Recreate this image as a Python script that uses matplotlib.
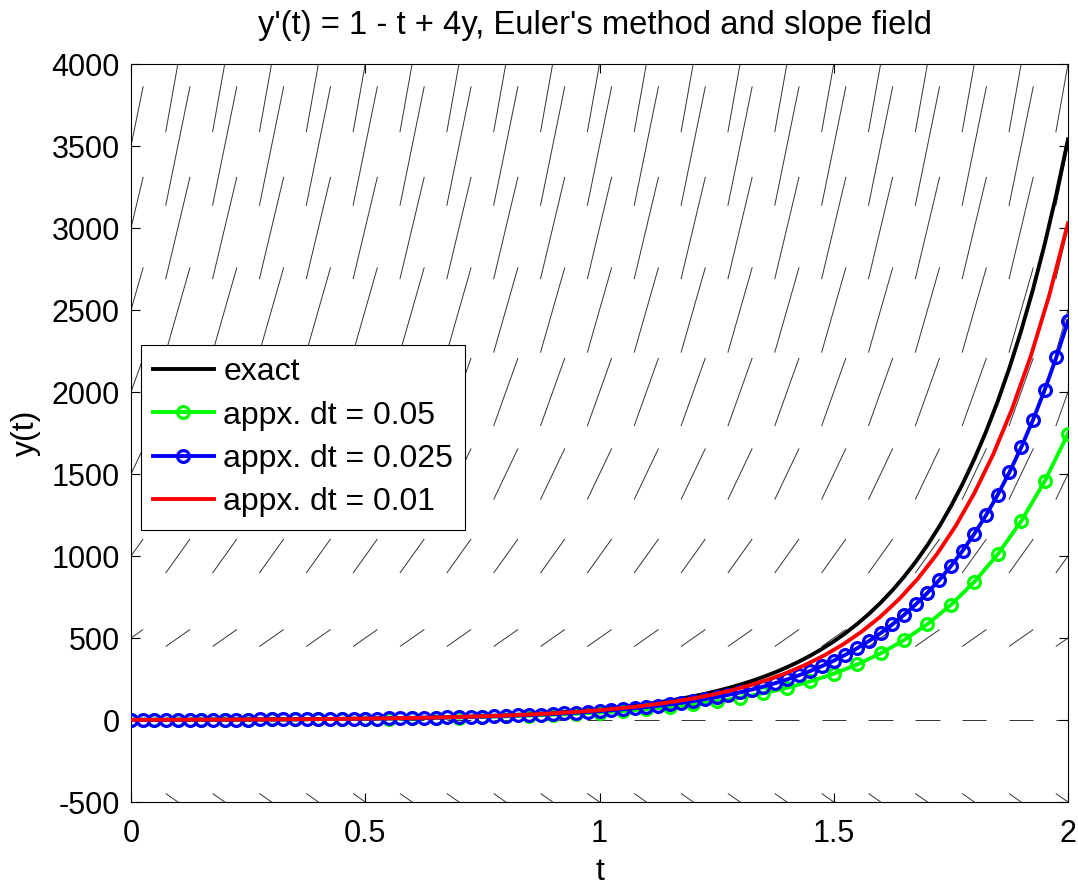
import numpy as np
import matplotlib
matplotlib.use("Agg")
import matplotlib.pyplot as plt
from matplotlib.collections import LineCollection

plt.rcParams['font.family'] = ['Liberation Sans', 'DejaVu Sans']

title = "y'(t) = 1 - t + 4y, Euler's method and slope field"
x_label = "t"
y_label = "y(t)"
labels = ["exact", "appx. dt = 0.05", "appx. dt = 0.025", "appx. dt = 0.01"]
colors = ["#000000", "#00ff00", "#0000ff", "#ff0000"]

# exact solution, sampled every 0.025
t_exact = np.linspace(0, 2, 81)
y_exact = [1.0, 1.1311, 1.2754, 1.4342, 1.609, 1.8016, 2.0138, 2.2476, 2.5053, 2.7895,
           3.103, 3.4487, 3.8301, 4.251, 4.7155, 5.2283, 5.7942, 6.4191, 7.109, 7.8707,
           8.712, 9.6411, 10.6672, 11.8006, 13.0525, 14.4355, 15.9632, 17.6509, 19.5155, 21.5755,
           23.8516, 26.366, 29.1449, 32.215, 35.6074, 39.3558, 43.4979, 48.0749, 53.1327, 58.7217,
           64.8978, 71.7228, 79.265, 87.5998, 96.8104, 106.9891, 118.2376, 130.6685, 144.4061, 159.5879,
           176.3656, 194.9073, 215.3983, 238.0437, 263.0701, 290.7279, 321.2939, 355.0738, 392.4057, 433.6632,
           479.2592, 529.6499, 585.3395, 646.8854, 714.9035, 790.0744, 873.1505, 964.9632, 1066.4312, 1178.57,
           1302.5019, 1439.4672, 1590.8365, 1758.1249, 1943.0065, 2147.3316, 2373.1451, 2622.707, 2898.5148, 3203.329,
           3540.2001]

# Euler, dt = 0.05
t_dt05 = np.linspace(0, 2, 41)
y_dt05 = [1.0, 1.25, 1.5475, 1.902, 2.3249, 2.8299, 3.4334, 4.155, 5.0185, 6.0522,
          7.2902, 8.7732, 10.5504, 12.6804, 15.234, 18.2958, 21.9675, 26.3585, 31.6527, 37.9883,
          45.5884, 54.7061, 65.6448, 78.7688, 94.515, 113.408, 136.0771, 163.2775, 195.9155, 235.0786,
          282.0719, 338.4612, 406.126, 487.3212, 584.7529, 701.6685, 841.9647, 1010.3177, 1212.3387, 1454.7615,
          1745.6662]

# Euler, dt = 0.025
t_dt025 = np.linspace(0, 2, 81)
y_dt025 = [1.0, 1.125, 1.2619, 1.4118, 1.5761, 1.7562, 1.9537, 2.1704, 2.408, 2.6688,
           2.9551, 3.2693, 3.6144, 3.9933, 4.4095, 4.8667, 5.369, 5.9209, 6.5274, 7.1939,
           7.9264, 8.7315, 9.6166, 10.5895, 11.6591, 12.835, 14.1278, 15.5494, 17.1124, 18.8312,
           20.7212, 22.7995, 25.0851, 27.5986, 30.3629, 33.4029, 36.7463, 40.4234, 44.4677, 48.9157,
           53.8079, 59.1887, 65.1069, 71.6163, 78.7761, 86.6512, 95.3132, 104.8408, 115.3205, 126.8475,
           139.5266, 153.4731, 168.8135, 185.6873, 204.2479, 224.664, 247.121, 271.8231, 298.9948, 328.883,
           361.7594, 397.9229, 437.7021, 481.4585, 529.59, 582.534, 640.7718, 704.8327, 775.2991, 852.8115,
           938.0745, 1031.8632, 1135.0302, 1248.5132, 1373.3439, 1510.657, 1661.7008, 1827.8484, 2010.6101, 2211.6474,
           2432.7878]

# Euler, dt = 0.01 (every 4th step shown)
t_dt01 = np.linspace(0, 2, 51)
y_dt01 = [1.0, 1.2117, 1.4577, 1.7437, 2.0767, 2.4645, 2.9164, 3.4435, 4.0583, 4.7759,
          5.6137, 6.5921, 7.735, 9.0703, 10.6308, 12.4546, 14.5864, 17.0787, 19.9927, 23.3999,
          27.3841, 32.0434, 37.4925, 43.8654, 51.3191, 60.0371, 70.2343, 82.1619, 96.1138, 112.4339,
          131.5243, 153.8557, 179.9786, 210.537, 246.2843, 288.1019, 337.0209, 394.2475, 461.1928, 539.5076,
          631.1232, 738.2988, 863.6774, 1010.3509, 1181.9365, 1382.6656, 1617.4886, 1892.1966, 2213.5644, 2589.5176,
          3029.328]

# slope field grid
field_t = [0.0, 0.1, 0.2, 0.3, 0.4, 0.5, 0.6, 0.7, 0.8, 0.9, 1.0,
           1.1, 1.2, 1.3, 1.4, 1.5, 1.6, 1.7, 1.8, 1.9, 2.0]
field_y = [-500, 0, 500, 1000, 1500, 2000, 2500, 3000, 3500, 4000]
field_slope = [-2000, 0, 2000, 4000, 6000, 8000, 10000, 12000, 14000, 16000]
seg_half = 0.026

xticks = [0, 0.5, 1, 1.5, 2]
yticks = [-500, 0, 500, 1000, 1500, 2000, 2500, 3000, 3500, 4000]

fig = plt.figure(figsize=(10.78, 8.88), dpi=100)
ax = fig.add_axes([131/1078, 1-802/888, 937/1078, 738/888])

segs = []
for yy, s in zip(field_y, field_slope):
    for tt in field_t:
        segs.append([(tt - seg_half, yy - seg_half*s), (tt + seg_half, yy + seg_half*s)])
lc = LineCollection(segs, colors='#333333', linewidths=0.7, zorder=1)
ax.add_collection(lc)

lw = 2.8
ax.plot(t_exact, y_exact, color=colors[0], lw=lw, label=labels[0], zorder=2)
ax.plot(t_dt05, y_dt05, color=colors[1], lw=lw, marker='o', ms=8.5, mew=2.3,
        mfc='none', label=labels[1], zorder=3)
ax.plot(t_dt025, y_dt025, color=colors[2], lw=lw, marker='o', ms=8.5, mew=2.3,
        mfc='none', label=labels[2], zorder=4)
ax.plot(t_dt01, y_dt01, color=colors[3], lw=lw, label=labels[3], zorder=5)

ax.set_xlim(0, 2)
ax.set_ylim(-500, 4000)
ax.set_xticks(xticks)
ax.set_xticklabels(['0', '0.5', '1', '1.5', '2'])
ax.set_yticks(yticks)
ax.set_yticklabels([str(v) for v in yticks])
ax.tick_params(direction='in', length=6.5, width=0.8, top=True, right=True,
               labelsize=22)
ax.tick_params(axis='x', pad=12)
ax.tick_params(axis='y', pad=8)
for sp in ax.spines.values():
    sp.set_linewidth(0.8)

ax.set_xlabel(x_label, fontsize=23)
ax.set_ylabel(y_label, fontsize=23)
ax.xaxis.set_label_coords(0.5, -0.074)
ax.yaxis.set_label_coords(-0.096, 0.5)

fig.text(595/1078, 1 - 34/888, title, ha='center', va='baseline', fontsize=23.6)

leg = ax.legend(loc='upper left', bbox_to_anchor=(10/937, (802-345)/738),
                borderaxespad=0, fontsize=23, handlelength=1.9, handletextpad=0.3,
                labelspacing=0.42, borderpad=0.38, fancybox=False, framealpha=1,
                edgecolor='black')
leg.get_frame().set_linewidth(0.8)

fig.savefig("out.png", dpi=100)
